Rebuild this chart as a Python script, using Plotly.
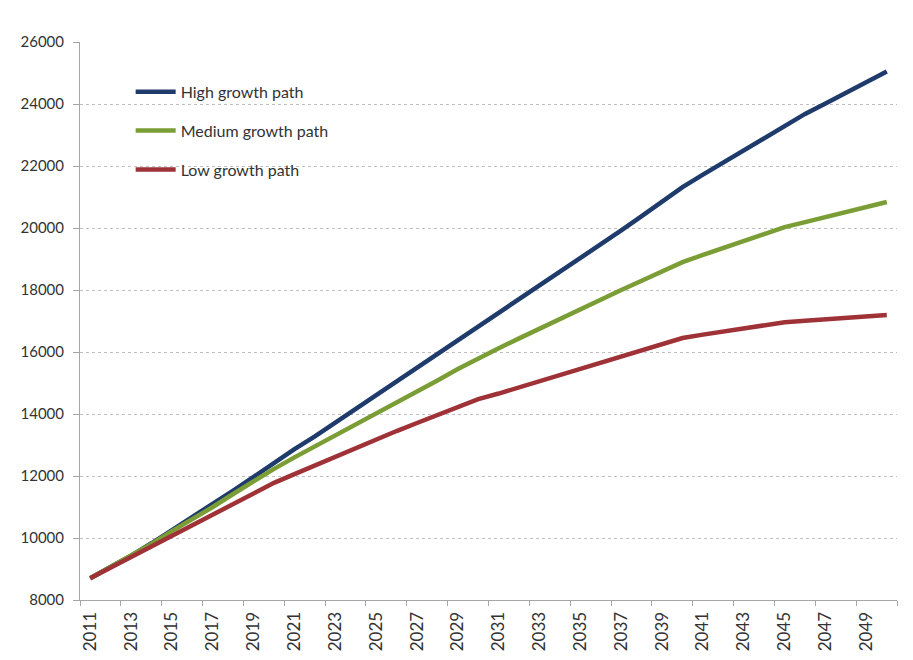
import plotly.graph_objects as go

years = list(range(2011, 2051))

high_growth = [8700, 9060, 9430, 9830, 10250, 10650, 11070, 11530, 11970, 12430,
               12870, 13280, 13720, 14160, 14600, 15040, 15480, 15920, 16360, 16800,
               17240, 17680, 18120, 18560, 19000, 19460, 19920, 20380, 20850, 21320,
               21720, 22120, 22520, 22920, 23320, 23680, 24020, 24360, 24700, 25050]

medium_growth = [8700, 9060, 9420, 9810, 10220, 10600, 11000, 11420, 11830, 12230,
                 12600, 12950, 13300, 13650, 14000, 14350, 14700, 15080, 15450, 15800,
                 16120, 16440, 16760, 17080, 17400, 17700, 18000, 18300, 18600, 18900,
                 19130, 19350, 19580, 19800, 20030, 20190, 20350, 20510, 20670, 20840]

low_growth = [8700, 9040, 9380, 9730, 10080, 10420, 10760, 11100, 11440, 11780,
              12060, 12340, 12620, 12900, 13190, 13450, 13710, 13970, 14230, 14480,
              14660, 14860, 15060, 15260, 15460, 15660, 15860, 16060, 16260, 16450,
              16560, 16660, 16760, 16860, 16960, 17010, 17060, 17110, 17150, 17190]

series_names = ["High growth path", "Medium growth path", "Low growth path"]
series_colors = ["#1F3B6C", "#7A9E35", "#9E3236"]
x_tick_years = list(range(2011, 2050, 2))
y_ticks = list(range(8000, 26001, 2000))

FONT = "Lato, 'Open Sans', sans-serif"

fig = go.Figure()
for name, vals, col in zip(series_names, [high_growth, medium_growth, low_growth], series_colors):
    fig.add_trace(go.Scatter(
        x=years, y=vals, mode="lines", name=name,
        line=dict(color=col, width=4.5),
        legendgroup=name,
    ))

fig.update_layout(
    width=913, height=660,
    margin=dict(l=80, r=16, t=42, b=60),
    paper_bgcolor="white", plot_bgcolor="white",
    font=dict(family=FONT, size=15, color="#333333"),
    showlegend=True,
    legend=dict(
        x=0.062, y=0.941, xanchor="left", yanchor="top",
        bgcolor="rgba(0,0,0,0)", font=dict(size=16, color="#333333"),
        tracegroupgap=15, itemwidth=40,
    ),
)

fig.update_xaxes(
    range=[2010.5, 2050.5],
    tickmode="array", tickvals=x_tick_years, ticktext=[str(y) for y in x_tick_years],
    tickangle=-90, ticks="", showgrid=False, zeroline=False,
    showline=True, linecolor="#A6A6A6", linewidth=1,
    minor=dict(tickmode="linear", tick0=2010.5, dtick=2, ticks="outside",
               ticklen=5, tickcolor="#A6A6A6", tickwidth=1, showgrid=False),
    tickfont=dict(size=17, color="#333333"),
    ticklabelstandoff=4, automargin=False,
)

fig.update_yaxes(
    range=[8000, 26000],
    tickmode="array", tickvals=y_ticks, ticktext=[str(v) for v in y_ticks],
    ticks="outside", ticklen=6, tickcolor="#A6A6A6",
    showline=True, linecolor="#A6A6A6", linewidth=1,
    showgrid=True, gridcolor="#BFBFBF", griddash="dot", gridwidth=1,
    zeroline=False, ticklabelstandoff=6, automargin=False,
    tickfont=dict(size=15, color="#333333"),
)

fig.write_html("out.html")
